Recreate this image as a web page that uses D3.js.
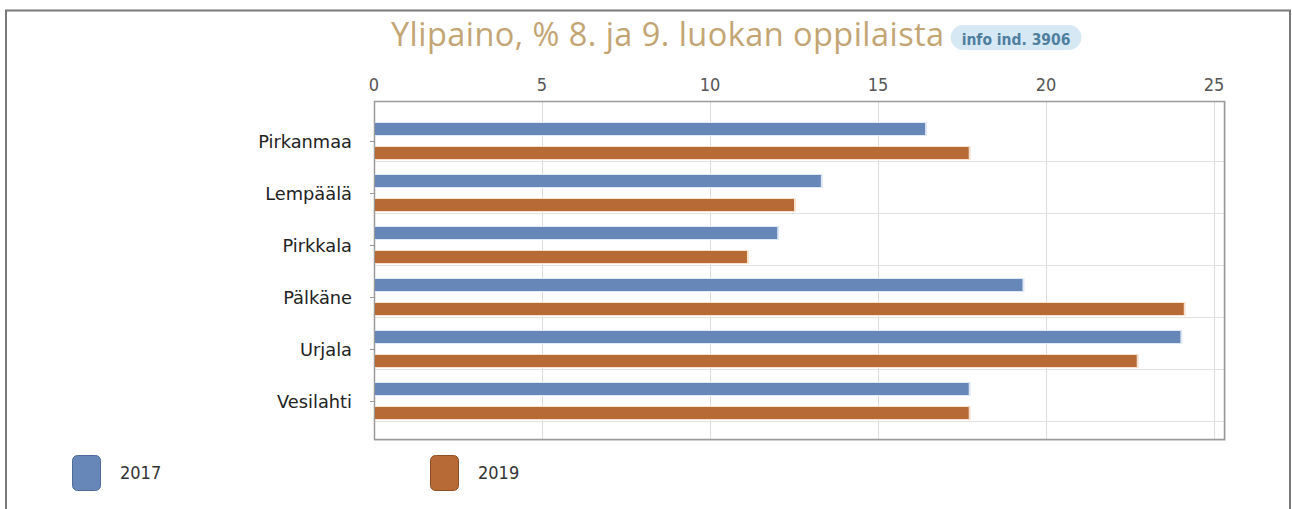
<!DOCTYPE html>
<html>
<head>
<meta charset="utf-8">
<script src="https://cdn.jsdelivr.net/npm/d3@7"></script>
<style>
  html, body { margin: 0; padding: 0; background: #fff; }
  svg { display: block; }
</style>
</head>
<body>
<div id="chart"></div>
<script>
// Data
const categories = ["Pirkanmaa", "Lempäälä", "Pirkkala", "Pälkäne", "Urjala", "Vesilahti"];
const seriesNames = ["2017", "2019"];
const values2017 = [16.4, 13.3, 12.0, 19.3, 24.0, 17.7];
const values2019 = [17.7, 12.5, 11.1, 24.1, 22.7, 17.7];
const xTicks = [0, 5, 10, 15, 20, 25];
const titleText = "Ylipaino, % 8. ja 9. luokan oppilaista";
const badgeText = "info ind. 3906";

const W = 1292, H = 509;
const colors = ["#6787b8", "#b86a36"];
const strokes = ["#4f6c99", "#8f4f25"];
const condensed = "'DejaVu Sans Condensed', 'Liberation Sans Narrow', sans-serif";

const svg = d3.select("#chart").append("svg")
  .attr("width", W).attr("height", H);

// Outer frame
svg.append("path")
  .attr("d", `M6,${H} L6,10.5 L1290,10.5 L1290,${H}`)
  .attr("fill", "none").attr("stroke", "#7a7a7a").attr("stroke-width", 2);

// Plot area
const plot = { left: 374, top: 101, bottom: 439, right: 1224 };
const x = d3.scaleLinear().domain([0, 25]).range([plot.left, 1214]);
const y = d3.scalePoint().domain(categories).range([141, 401]);
const barOffset = 12, barH = 12;

// Title
const title = svg.append("text")
  .attr("x", 391).attr("y", 46)
  .attr("font-family", "'Open Sans', sans-serif")
  .attr("font-size", 32.5)
  .attr("letter-spacing", 0.45)
  .attr("fill", "#c3a574")
  .text(titleText);

const tw = title.node().getComputedTextLength();
const bx = 391 + tw + 6;
const badge = svg.append("g");
const badgeRect = badge.append("rect")
  .attr("x", bx).attr("y", 25).attr("height", 25).attr("rx", 12.5)
  .attr("fill", "#d5e8f3");
const bt = badge.append("text")
  .attr("x", bx + 11).attr("y", 44.5)
  .attr("font-family", condensed)
  .attr("font-weight", "bold")
  .attr("font-size", 15.5)
  .attr("fill", "#4f7f9f")
  .text(badgeText);
badgeRect.attr("width", bt.node().getComputedTextLength() + 22);

// Plot background
svg.append("rect")
  .attr("x", plot.left + 1).attr("y", plot.top + 1)
  .attr("width", plot.right - plot.left).attr("height", plot.bottom - plot.top)
  .attr("fill", "none").attr("stroke", "#e4e4e4").attr("stroke-width", 2);
svg.append("rect")
  .attr("x", plot.left).attr("y", plot.top)
  .attr("width", plot.right - plot.left).attr("height", plot.bottom - plot.top)
  .attr("fill", "#fff");

// Vertical grid
svg.append("g").selectAll("line")
  .data(xTicks.slice(1))
  .join("line")
  .attr("x1", d => x(d) + 0.5).attr("x2", d => x(d) + 0.5)
  .attr("y1", plot.top).attr("y2", plot.bottom)
  .attr("stroke", "#dcdcdc");

// Horizontal grid (below each category)
svg.append("g").selectAll("line")
  .data(categories)
  .join("line")
  .attr("x1", plot.left).attr("x2", plot.right)
  .attr("y1", d => y(d) + 20.5).attr("y2", d => y(d) + 20.5)
  .attr("stroke", "#e2e2e2");

// Plot border
svg.append("rect")
  .attr("x", plot.left + 0.5).attr("y", plot.top + 0.5)
  .attr("width", plot.right - plot.left).attr("height", plot.bottom - plot.top)
  .attr("fill", "none").attr("stroke", "#9a9a9a").attr("stroke-width", 1.5);

// Top axis labels
svg.append("g").selectAll("text")
  .data(xTicks)
  .join("text")
  .attr("x", d => x(d)).attr("y", 91)
  .attr("text-anchor", "middle")
  .attr("font-family", condensed)
  .attr("font-size", 18)
  .attr("fill", "#555")
  .text(d => d);

// Category labels and ticks
svg.append("g").selectAll("text")
  .data(categories)
  .join("text")
  .attr("x", 352).attr("y", d => y(d) + 6.5)
  .attr("text-anchor", "end")
  .attr("font-family", "'DejaVu Sans', sans-serif")
  .attr("font-size", 17.8)
  .attr("fill", "#222")
  .text(d => d);
svg.append("g").selectAll("line")
  .data(categories)
  .join("line")
  .attr("x1", plot.left - 4).attr("x2", plot.left)
  .attr("y1", d => y(d) + 0.5).attr("y2", d => y(d) + 0.5)
  .attr("stroke", "#999");

// Bars
const series = [values2017, values2019];
series.forEach((vals, si) => {
  const off = si === 0 ? -barOffset : barOffset;
  const g = svg.append("g");
  // soft halo
  g.selectAll("rect.halo")
    .data(vals)
    .join("rect")
    .attr("class", "halo")
    .attr("x", x(0) + 1)
    .attr("y", (d, i) => y(categories[i]) + off - barH / 2 - 1)
    .attr("width", d => x(d) - x(0) + 1)
    .attr("height", barH + 2)
    .attr("fill", si === 0 ? "#dfe8f4" : "#f7e2d0");
  g.selectAll("rect.bar")
    .data(vals)
    .join("rect")
    .attr("class", "bar")
    .attr("x", x(0) + 1)
    .attr("y", (d, i) => y(categories[i]) + off - barH / 2)
    .attr("width", d => x(d) - x(0) - 1)
    .attr("height", barH)
    .attr("fill", colors[si]);
});

// Legend
const legendX = [72, 430];
const legend = svg.append("g").selectAll("g")
  .data(seriesNames)
  .join("g")
  .attr("transform", (d, i) => `translate(${legendX[i]},455)`);
legend.append("rect")
  .attr("x", 0.5).attr("y", 0.5).attr("width", 28).attr("height", 35).attr("rx", 5)
  .attr("fill", (d, i) => colors[i])
  .attr("stroke", (d, i) => strokes[i]);
legend.append("text")
  .attr("x", 48).attr("y", 24)
  .attr("font-family", condensed)
  .attr("font-size", 18)
  .attr("fill", "#333")
  .text(d => d);
</script>
</body>
</html>
